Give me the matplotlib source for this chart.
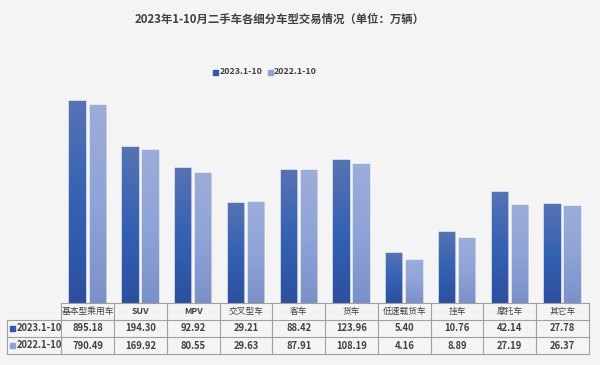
import matplotlib
matplotlib.use("Agg")
import matplotlib.pyplot as plt
from matplotlib.lines import Line2D
from matplotlib.colors import LinearSegmentedColormap
from matplotlib.collections import PatchCollection
import matplotlib.transforms as mtransforms
import numpy as np

plt.rcParams['font.family'] = ['Noto Sans CJK SC', 'DejaVu Sans']

categories = ["基本型乘用车", "SUV", "MPV", "交叉型车", "客车", "货车", "低速载货车", "挂车", "摩托车", "其它车"]
series_names = ["2023.1-10", "2022.1-10"]
v2023 = [895.18, 194.30, 92.92, 29.21, 88.42, 123.96, 5.40, 10.76, 42.14, 27.78]
v2022 = [790.49, 169.92, 80.55, 29.63, 87.91, 108.19, 4.16, 8.89, 27.19, 26.37]
title = "2023年1-10月二手车各细分车型交易情况（单位：万辆）"

bg = "#f4f4f4"
c_dark = "#3459a8"
c_light = "#8da2d5"
txt = "#404040"
grid_c = "#a0a0a0"
cm_dark = LinearSegmentedColormap.from_list("d", ["#2c4f9e", "#3461b2", "#5672b4"])
cm_light = LinearSegmentedColormap.from_list("l", ["#7a90c8", "#8ea3d7", "#9cacd9"])

fig = plt.figure(figsize=(6, 3.65), dpi=100, facecolor=bg)
ax = fig.add_axes([0.1022, 0.1712, 0.8795, 0.5603])
ax.set_facecolor(bg)

x = np.arange(len(categories))
w = 0.31
off = 0.19
b1 = ax.bar(x - off, v2023, w, color=c_dark, log=True, zorder=2)
b2 = ax.bar(x + off, v2022, w, color=c_light, log=True, zorder=2)
ax.set_yscale('log')
ax.set_ylim(1, 1000)
ax.set_xlim(-0.5, len(categories) - 0.5)

nseg = 50
for bars, cmap in ((b1, cm_dark), (b2, cm_light)):
    for r in bars:
        x0, wd, top = r.get_x(), r.get_width(), r.get_y() + r.get_height()
        edges = 10 ** np.linspace(0, np.log10(top), nseg + 1)
        for j in range(nseg):
            col = cmap((j + 0.5) / nseg)
            ax.add_patch(matplotlib.patches.Rectangle((x0, edges[j]), wd, edges[j + 1] - edges[j],
                         facecolor=col, edgecolor=col, lw=0.3, zorder=3))
        # faint shadow on the right
        ax.add_patch(matplotlib.patches.Rectangle((x0 + wd, 1), 0.012, top - 1,
                     color="#d8d8d8", zorder=1, lw=0))
for s in ax.spines.values():
    s.set_visible(False)
ax.set_xticks([])
ax.set_yticks([])
ax.yaxis.set_minor_locator(matplotlib.ticker.NullLocator())

# Title and legend
fig.text(280/600, 1 - 19/365, title, ha='center', va='center', fontsize=8.2,
         fontweight='bold', color=txt)
ly = 1 - 72/365
fig.patches.append(matplotlib.patches.Rectangle((213/600, ly - 2.5/365), 4.5/600, 5/365,
                   transform=fig.transFigure, color=c_dark))
fig.text(220/600, ly, series_names[0], ha='left', va='center', fontsize=6.4,
         fontweight='bold', color=txt)
fig.patches.append(matplotlib.patches.Rectangle((268/600, ly - 2.5/365), 4.5/600, 5/365,
                   transform=fig.transFigure, color=c_light))
fig.text(274/600, ly, series_names[1], ha='left', va='center', fontsize=6.4,
         fontweight='bold', color=txt)

# Data table drawn beneath axes
tr = mtransforms.blended_transform_factory(ax.transData, ax.transAxes)
n = len(categories)
row_h = 17.2 / (0.5603 * 365)
ys = [0, -row_h, -2 * row_h, -3 * row_h]
lab_left = -0.5 - 54.3 / (0.8795 * 600 / n)
kw = dict(transform=tr, color=grid_c, lw=0.8, clip_on=False, zorder=5)
ax.add_line(Line2D([-0.5, n - 0.5], [ys[0], ys[0]], **kw))
for yy in ys[1:]:
    ax.add_line(Line2D([lab_left, n - 0.5], [yy, yy], **kw))
for i in range(n + 1):
    ax.add_line(Line2D([i - 0.5, i - 0.5], [ys[0], ys[3]], **kw))
ax.add_line(Line2D([lab_left, lab_left], [ys[1], ys[3]], **kw))

for i, c in enumerate(categories):
    ax.text(i, (ys[0] + ys[1]) / 2, c, transform=tr, ha='center', va='center',
            fontsize=6.3, color=txt, clip_on=False,
            fontweight='bold' if c.isascii() else 'normal')
    ax.text(i, (ys[1] + ys[2]) / 2, f"{v2023[i]:.2f}", transform=tr, ha='center',
            va='center', fontsize=6.8, color=txt, clip_on=False, fontweight='bold')
    ax.text(i, (ys[2] + ys[3]) / 2, f"{v2022[i]:.2f}", transform=tr, ha='center',
            va='center', fontsize=6.8, color=txt, clip_on=False, fontweight='bold')

for k, (nm, col) in enumerate(zip(series_names, [c_dark, c_light])):
    fig_y = 1 - (328 + 17.5 * k) / 365
    fig.patches.append(matplotlib.patches.Rectangle((10/600, fig_y - 2.5/365), 4.5/600, 5/365,
                       transform=fig.transFigure, color=col))
    fig.text(17/600, fig_y, nm, ha='left', va='center', fontsize=6.8,
             fontweight='bold', color=txt)

fig.savefig("out.png", dpi=100, facecolor=bg)
